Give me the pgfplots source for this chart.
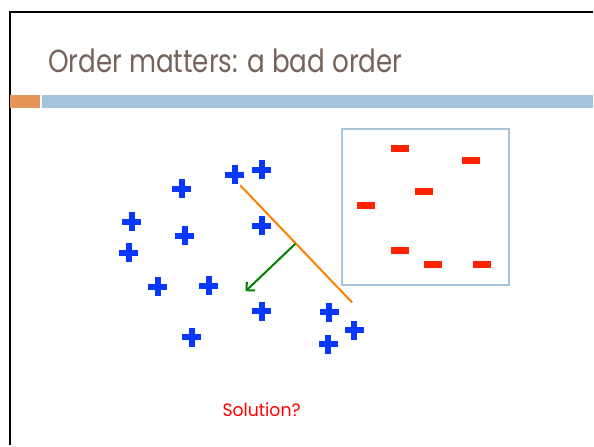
\documentclass[border=0pt]{standalone}
\usepackage{pgfplots}
\pgfplotsset{compat=1.18}
\usetikzlibrary{arrows.meta}
\usepackage{graphicx}
\usepackage{fontspec}
\setmainfont{Poppins}
\definecolor{titlecol}{RGB}{118,99,89}
\definecolor{barorange}{RGB}{232,149,90}
\definecolor{barblue}{RGB}{165,195,218}
\definecolor{plusblue}{RGB}{8,56,255}
\definecolor{minusred}{RGB}{255,34,0}
\definecolor{boxblue}{RGB}{169,196,220}
\definecolor{lineorange}{RGB}{255,128,0}
\definecolor{arrowgreen}{RGB}{0,128,0}
\begin{document}
\begin{tikzpicture}
\begin{axis}[
  width=594pt, height=446pt, scale only axis,
  xmin=0, xmax=594, ymin=0, ymax=446, y dir=reverse,
  hide axis, clip=false]
% background to fix bounding box
\addplot[draw=none, fill=white] coordinates {(0,0) (594,0) (594,446) (0,446)} -- cycle;
% frame
\addplot[black, line width=2pt] coordinates {(10,446) (10,12) (594,12)};
% header bars
\addplot[draw=none, fill=barorange] coordinates {(10,95) (40,95) (40,108.5) (10,108.5)} -- cycle;
\addplot[draw=none, fill=barblue] coordinates {(42,95) (594,95) (594,108.5) (42,108.5)} -- cycle;
% box
\addplot[boxblue, line width=2pt] coordinates {(343,129) (510,129) (510,285.5) (343,285.5)} -- cycle;
% plus points
\addplot[only marks, mark=+, mark size=9.5pt, plusblue, mark options={line width=6pt}] coordinates {
 (235,175) (262,170) (182,189) (132,222) (185,236) (262,226) (129,253)
 (158,287) (209,286) (262,312) (330,313) (355,331) (329,345) (192,338)};
% minus points
\addplot[only marks, mark=-, mark size=9pt, minusred, mark options={line width=7pt}] coordinates {
 (401,148.5) (472,161) (425,192) (367,206) (401,251) (434,265) (483,265)};
% separating line
\addplot[lineorange, line width=2pt] coordinates {(240.7,185.7) (352.7,303)};
% normal arrow
\addplot[arrowgreen, line width=2pt, -{Straight Barb[length=6pt,width=12pt]}] coordinates {(296,244) (246,291.7)};
% texts
\node[anchor=base west, inner sep=0pt, text=titlecol, font=\fontsize{32}{38}\selectfont] at (axis cs:48,73) {\scalebox{0.82}[1]{Order matters: a bad order}};
\node[anchor=base, inner sep=0pt, text=red, font=\fontsize{18}{21}\selectfont] at (axis cs:262,417) {\scalebox{0.96}[1]{Solution?}};
\end{axis}
\end{tikzpicture}
\end{document}
